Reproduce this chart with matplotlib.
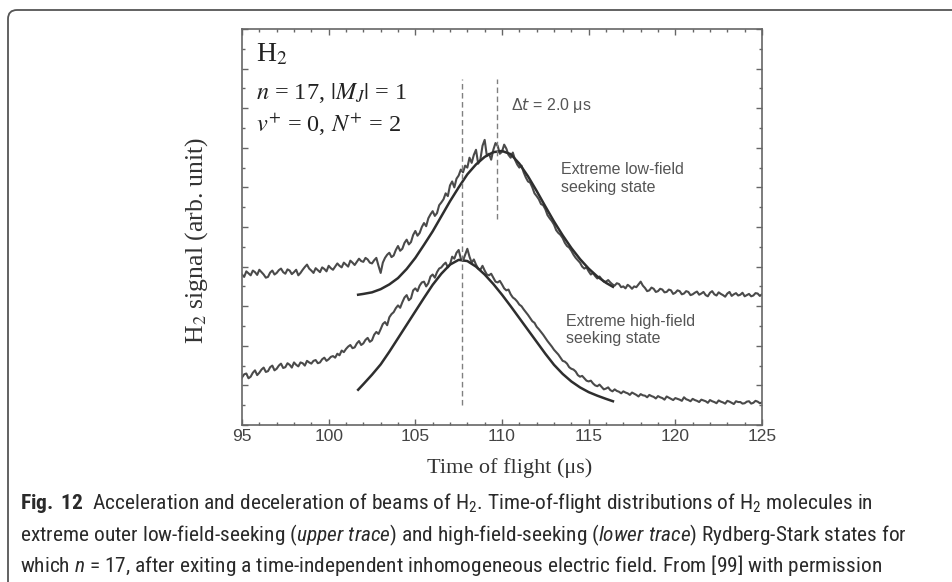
import matplotlib
matplotlib.use('Agg')
import matplotlib.pyplot as plt
import numpy as np
from matplotlib import font_manager as fm
from matplotlib.path import Path
from matplotlib.patches import PathPatch
from matplotlib.transforms import IdentityTransform
from matplotlib.ticker import MultipleLocator, NullFormatter

# ---------------- data ----------------
t_start, t_end = 95.0, 125.0   # traces are sampled evenly over this range
sig_upper = [
    3.80, 3.74, 3.88, 3.83, 3.78, 3.90, 3.86, 3.79, 3.92, 3.86, 3.80, 3.72, 3.74, 3.85, 3.90, 3.80,
    3.84, 3.91, 3.95, 3.86, 3.82, 3.93, 3.90, 3.81, 3.86, 3.92, 3.78, 3.84, 3.92, 3.99, 4.05, 3.95,
    3.90, 3.84, 3.96, 3.91, 3.86, 3.98, 3.94, 3.88, 4.02, 3.96, 3.92, 4.00, 4.08, 4.02, 3.98, 4.10,
    4.05, 4.00, 4.15, 4.10, 4.04, 4.12, 4.20, 4.14, 4.12, 4.22, 4.18, 4.10, 4.08, 4.16, 4.22, 4.02,
    3.84, 4.10, 4.22, 4.30, 4.35, 4.24, 4.28, 4.42, 4.52, 4.40, 4.45, 4.60, 4.68, 4.56, 4.62, 4.80,
    4.90, 4.78, 4.85, 5.00, 5.10, 5.02, 5.22, 5.32, 5.40, 5.28, 5.35, 5.55, 5.62, 5.70, 5.85, 5.78,
    6.05, 6.15, 6.00, 6.22, 6.30, 6.45, 6.38, 6.55, 6.50, 6.75, 6.62, 6.82, 6.95, 6.60, 6.70, 7.05,
    7.20, 6.80, 6.85, 6.70, 6.95, 7.12, 7.05, 6.85, 6.90, 7.08, 6.98, 6.82, 6.75, 6.88, 6.70, 6.58,
    6.50, 6.55, 6.38, 6.25, 6.15, 6.12, 6.00, 5.85, 5.78, 5.70, 5.58, 5.55, 5.45, 5.30, 5.22, 5.15,
    5.06, 4.92, 4.85, 4.80, 4.72, 4.60, 4.52, 4.48, 4.40, 4.30, 4.22, 4.16, 4.10, 4.00, 3.95, 3.98,
    3.88, 3.80, 3.84, 3.76, 3.70, 3.75, 3.68, 3.62, 3.62, 3.66, 3.60, 3.55, 3.52, 3.58, 3.56, 3.48,
    3.50, 3.45, 3.54, 3.50, 3.44, 3.50, 3.48, 3.55, 3.62, 3.52, 3.46, 3.38, 3.40, 3.47, 3.44, 3.36,
    3.38, 3.44, 3.42, 3.35, 3.36, 3.42, 3.40, 3.31, 3.34, 3.40, 3.38, 3.30, 3.32, 3.38, 3.36, 3.28,
    3.30, 3.34, 3.37, 3.29, 3.32, 3.36, 3.28, 3.25, 3.34, 3.38, 3.30, 3.27, 3.35, 3.31, 3.28, 3.24,
    3.32, 3.36, 3.26, 3.30, 3.33, 3.27, 3.29, 3.34, 3.25, 3.28, 3.31, 3.25, 3.27, 3.33, 3.32, 3.26,
    3.30]
sig_lower = [
    1.20, 1.28, 1.30, 1.18, 1.22, 1.32, 1.38, 1.26, 1.32, 1.40, 1.45, 1.34, 1.36, 1.46, 1.50, 1.38,
    1.42, 1.50, 1.55, 1.44, 1.46, 1.56, 1.52, 1.45, 1.58, 1.52, 1.48, 1.58, 1.56, 1.50, 1.62, 1.58,
    1.55, 1.62, 1.64, 1.56, 1.58, 1.66, 1.70, 1.62, 1.66, 1.72, 1.74, 1.70, 1.80, 1.76, 1.88, 1.84,
    1.92, 1.98, 2.02, 1.94, 1.96, 2.06, 2.12, 2.02, 2.06, 2.15, 2.20, 2.10, 2.14, 2.28, 2.35, 2.30,
    2.42, 2.55, 2.60, 2.52, 2.72, 2.80, 2.85, 2.95, 3.02, 2.96, 3.10, 3.22, 3.28, 3.15, 3.20, 3.40,
    3.45, 3.38, 3.52, 3.60, 3.62, 3.50, 3.58, 3.75, 3.80, 3.72, 3.86, 3.95, 3.98, 4.05, 4.10, 3.98,
    4.05, 4.25, 4.20, 4.35, 4.42, 4.20, 4.15, 4.30, 4.45, 4.25, 4.10, 4.18, 4.05, 3.95, 3.92, 4.02,
    3.90, 3.80, 3.78, 3.82, 3.72, 3.62, 3.60, 3.64, 3.55, 3.45, 3.40, 3.42, 3.30, 3.22, 3.18, 3.12,
    3.04, 3.00, 2.92, 2.85, 2.78, 2.70, 2.62, 2.58, 2.48, 2.42, 2.35, 2.28, 2.20, 2.12, 2.05, 1.98,
    1.90, 1.84, 1.78, 1.70, 1.62, 1.60, 1.55, 1.46, 1.42, 1.40, 1.35, 1.26, 1.22, 1.24, 1.18, 1.12,
    1.10, 1.12, 1.05, 1.00, 0.98, 1.02, 0.96, 0.90, 0.92, 0.95, 0.88, 0.85, 0.90, 0.86, 0.84, 0.80,
    0.85, 0.82, 0.80, 0.76, 0.82, 0.79, 0.76, 0.72, 0.78, 0.75, 0.74, 0.70, 0.76, 0.73, 0.71, 0.67,
    0.73, 0.70, 0.68, 0.64, 0.72, 0.69, 0.66, 0.63, 0.68, 0.66, 0.64, 0.61, 0.70, 0.65, 0.63, 0.60,
    0.66, 0.63, 0.61, 0.58, 0.64, 0.62, 0.60, 0.56, 0.63, 0.60, 0.58, 0.55, 0.62, 0.59, 0.57, 0.54,
    0.61, 0.59, 0.56, 0.53, 0.60, 0.58, 0.58, 0.54, 0.55, 0.59, 0.60, 0.54, 0.56, 0.61, 0.59, 0.55,
    0.57]

t_fit = [101.7, 102.0, 102.5, 103.0, 103.5, 104.0, 104.5, 105.0, 105.5, 106.0, 106.5, 107.0,
         107.5, 108.0, 108.5, 109.0, 109.5, 110.0, 110.5, 111.0, 111.5, 112.0, 112.5, 113.0,
         113.5, 114.0, 114.5, 115.0, 115.5, 116.0, 116.4]
fit_upper = [3.29, 3.31, 3.35, 3.43, 3.55, 3.71, 3.94, 4.22, 4.55, 4.89, 5.27, 5.65,
             6.00, 6.33, 6.58, 6.77, 6.89, 6.92, 6.84, 6.60, 6.28, 5.91, 5.52, 5.14,
             4.79, 4.47, 4.19, 3.95, 3.75, 3.59, 3.49]
fit_lower = [0.89, 1.03, 1.27, 1.53, 1.85, 2.19, 2.53, 2.87, 3.21, 3.54, 3.82, 4.05,
             4.17, 4.14, 4.00, 3.80, 3.56, 3.29, 3.00, 2.70, 2.40, 2.10, 1.80, 1.52,
             1.29, 1.10, 0.95, 0.83, 0.74, 0.66, 0.60]

peak_times = [107.7, 109.7]
peak_line_bottom = [0.5, 5.2]
peak_line_top = 8.73

x_ticks = [95, 100, 105, 110, 115, 120, 125]
x_ticklabels = ['95', '100', '105', '110', '115', '120', '125']

caption_lines = [
    r"$\mathbf{Fig.\ 12}$  Acceleration and deceleration of beams of H$_2$. Time-of-flight distributions of H$_2$ molecules in",
    r"extreme outer low-field-seeking ($\mathit{upper\ trace}$) and high-field-seeking ($\mathit{lower\ trace}$) Rydberg-Stark states for",
    r"which $n$ = 17, after exiting a time-independent inhomogeneous electric field. From [99] with permission",
]

# ---------------- fonts ----------------
names = {f.name for f in fm.fontManager.ttflist}
cap_font = 'Liberation Sans'
for cand in ['Liberation Sans Narrow', 'Roboto Condensed', 'Open Sans Condensed',
             'DejaVu Sans Condensed', 'Noto Sans Condensed']:
    if cand in names:
        cap_font = cand
        break
plt.rcParams['mathtext.fontset'] = 'custom'
plt.rcParams['mathtext.rm'] = cap_font
plt.rcParams['mathtext.it'] = cap_font + ':italic'
plt.rcParams['mathtext.bf'] = cap_font + ':bold'

W, H = 953, 582
fig = plt.figure(figsize=(W / 100, H / 100), dpi=100)
fig.patch.set_facecolor('white')

# outer frame (rounded top-left corner, continues off the page)
r = 9
x0, ytop = 8, H - 10
verts = [(x0, -20), (x0, ytop - r), (x0, ytop), (x0 + r, ytop), (W + 20, ytop)]
codes = [Path.MOVETO, Path.LINETO, Path.CURVE3, Path.CURVE3, Path.LINETO]
frame = PathPatch(Path(verts, codes), transform=IdentityTransform(), fill=False,
                  edgecolor='#555555', linewidth=1.3)
fig.add_artist(frame)

ax = fig.add_axes([242 / W, 1 - 425 / H, 520 / W, 396 / H])
ax.set_xlim(95, 125)
ax.set_ylim(0, 10)

t_upper = np.linspace(t_start, t_end, len(sig_upper))
t_lower = np.linspace(t_start, t_end, len(sig_lower))
trace_col = '#4a4a4a'
ax.plot(t_upper, sig_upper, color=trace_col, lw=1.5, solid_joinstyle='round')
ax.plot(t_lower, sig_lower, color=trace_col, lw=1.5, solid_joinstyle='round')
ax.plot(t_fit, fit_upper, color='#2e2e2e', lw=1.8)
ax.plot(t_fit, fit_lower, color='#2e2e2e', lw=1.8)
for tp, yb in zip(peak_times, peak_line_bottom):
    ax.plot([tp, tp], [yb, peak_line_top], color='#808080', lw=1.0, dashes=(4, 2.5))

# axes styling
for s in ax.spines.values():
    s.set_color('#666666')
    s.set_linewidth(1.2)
ax.set_xticks(x_ticks)
ax.set_xticklabels(x_ticklabels)
ax.xaxis.set_minor_locator(MultipleLocator(1))
ax.yaxis.set_major_locator(MultipleLocator(1))
ax.yaxis.set_minor_locator(MultipleLocator(0.5))
ax.yaxis.set_major_formatter(NullFormatter())
ax.tick_params(which='both', direction='in', top=True, right=True, colors='#666666')
ax.tick_params(which='major', length=4, width=1.0)
ax.tick_params(which='minor', length=2.5, width=1.0)
ax.tick_params(axis='x', labelsize=12.5, labelcolor='#444444', pad=3)
for lab in ax.get_xticklabels():
    lab.set_fontfamily('Liberation Sans')

ax.set_xlabel('Time of flight (μs)', fontfamily='Liberation Serif', fontsize=16, color='#333333')
ax.xaxis.set_label_coords(0.515, -0.083)
ax.set_ylabel(r'H$_2$ signal (arb. unit)', fontfamily='Liberation Serif', fontsize=18.5,
              color='#333333', math_fontfamily='stix')
ax.yaxis.set_label_coords(-0.062, 0.467)

# annotations inside the plot
serif = dict(fontfamily='Liberation Serif', color='#222222', math_fontfamily='stix')
ax.text(95.8, 9.17, r'H$_2$', fontsize=20, va='baseline', **serif)
ax.text(95.8, 8.38, r'$n$ = 17, $|M_J|$ = 1', fontsize=17.5, va='center', **serif)
ax.text(95.8, 7.58, r'$v^{+}$ = 0, $N^{+}$ = 2', fontsize=17.5, va='center', **serif)

sans = dict(fontfamily='Liberation Sans', color='#555555', fontsize=11.5)
ax.text(110.5, 8.06, r'Δ$t$ = 2.0 μs', va='center', math_fontfamily='dejavusans', **sans)
ax.text(113.4, 6.22, 'Extreme low-field\nseeking state', va='center', linespacing=1.2, **sans)
ax.text(113.7, 2.40, 'Extreme high-field\nseeking state', va='center', linespacing=1.2, **sans)

# caption
cap_y = [503, 535, 566]
texts = []
for line, yy in zip(caption_lines, cap_y):
    t = fig.text(20 / W, 1 - yy / H, line, fontfamily=cap_font, fontsize=13, color='#2a2a2a',
                 va='center', ha='left')
    texts.append(t)
fig.canvas.draw()
rend = fig.canvas.get_renderer()
w2 = texts[1].get_window_extent(rend).width
fs = 13 * 885 / w2
for t in texts:
    t.set_fontsize(fs)

fig.savefig('out.png', dpi=100, facecolor='white')
